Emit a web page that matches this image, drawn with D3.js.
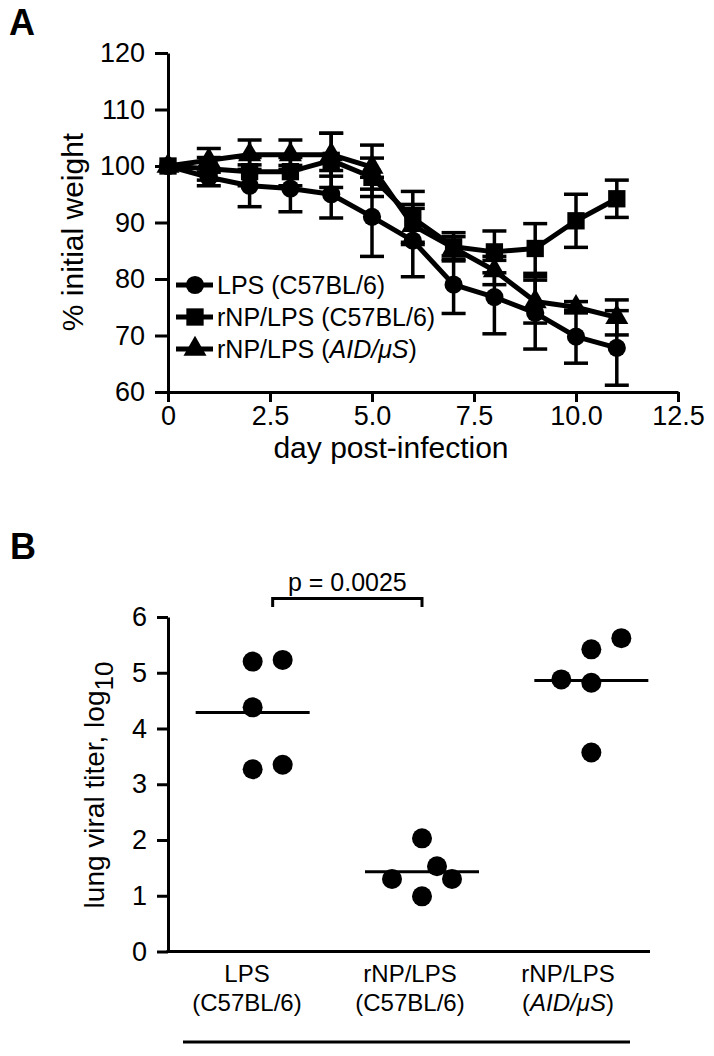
<!DOCTYPE html>
<html>
<head>
<meta charset="utf-8">
<script src="https://cdn.jsdelivr.net/npm/d3@7"></script>
<style>
  body { margin: 0; background: #fff; }
  svg { font-family: "Liberation Sans", Arial, Helvetica, sans-serif; }
</style>
</head>
<body>
<svg id="fig" width="714" height="1056"></svg>
<script>
// ---- panel A data: % initial weight by day ----
const days = [0, 1, 2, 3, 4, 5, 6, 7, 8, 9, 10, 11];
const lpsWt  = [100, 98, 96.5, 96, 95, 91, 86.8, 79, 76.8, 74, 69.8, 67.8];
const lpsErr = [0, 1.5, 3.7, 4.1, 4.2, 7, 6.4, 5.1, 6.5, 6.4, 4.7, 6.6];
const npWt   = [100, 99.5, 99, 99, 101, 98, 90.8, 85.7, 84.8, 85.4, 90.3, 94.2];
const npErr  = [0, 2, 2.5, 2.5, 4.8, 3.4, 4.7, 2.5, 3.7, 4.4, 4.7, 3.3];
const aidWt  = [100, 101, 102, 102, 102, 99.8, 89.5, 85.5, 81.5, 76, 75, 73.2];
const aidErr = [0, 2.1, 2.6, 2.6, 3.8, 3.9, 3, 2, 2.5, 3.8, 1, 3.1];
const seriesNames = ["LPS (C57BL/6)", "rNP/LPS (C57BL/6)", "rNP/LPS (AID/\u03bcS)"];
const xTicksA = [0, 2.5, 5, 7.5, 10, 12.5];
const yTicksA = [60, 70, 80, 90, 100, 110, 120];

// ---- panel B data: lung viral titer, log10 ----
const groups = ["LPS (C57BL/6)", "rNP/LPS (C57BL/6)", "rNP/LPS (AID/\u03bcS)"];
const titerLps = [5.2, 5.23, 4.38, 3.27, 3.35];
const titerNp  = [2.03, 1.53, 1.3, 1.3, 0.99];
const titerAid = [5.62, 5.42, 4.88, 4.82, 3.57];
// sideways dodge of each dot, in dot slots
const dodgeLps = [0, 1, 0, 0, 1];
const dodgeNp  = [0, 0.5, -1, 1, 0];
const dodgeAid = [1, 0, -1, 0, 0];
const yTicksB = [0, 1, 2, 3, 4, 5, 6];
const pLabel = "p = 0.0025";

const svg = d3.select("#fig");

// ================= panel A =================
const x = d3.scaleLinear().domain([0, 12.5]).range([168, 678]);
const y = d3.scaleLinear().domain([60, 120]).range([392, 53]);

svg.append("text").attr("x", 9).attr("y", 35)
  .attr("font-size", 36).attr("font-weight", "bold").text("A");

const gxA = svg.append("g").attr("transform", `translate(0,${y(60)})`)
  .call(d3.axisBottom(x).tickValues(xTicksA).tickSize(10).tickSizeOuter(0).tickPadding(4)
    .tickFormat(d => d === 0 ? "0" : d.toFixed(1)));
const gyA = svg.append("g").attr("transform", `translate(${x(0)},0)`)
  .call(d3.axisLeft(y).tickValues(yTicksA).tickSize(13).tickSizeOuter(0).tickPadding(10));
[gxA, gyA].forEach(g => {
  g.selectAll("path, line").attr("stroke", "#000").attr("stroke-width", 3);
  g.selectAll("text").attr("font-size", 27).attr("fill", "#000");
});

svg.append("text").attr("x", 391).attr("y", 458)
  .attr("text-anchor", "middle").attr("font-size", 30).text("day post-infection");
svg.append("text").attr("transform", `translate(83,232) rotate(-90)`)
  .attr("text-anchor", "middle").attr("font-size", 30).text("% initial weight");

const series = [
  { vals: lpsWt, err: lpsErr, shape: d3.symbolCircle, size: 260 },
  { vals: npWt,  err: npErr,  shape: d3.symbolSquare, size: 300 },
  { vals: aidWt, err: aidErr, shape: d3.symbolTriangle, size: 230 }
];

const line = d3.line().x(d => x(d[0])).y(d => y(d[1]));
const cap = 12;

series.forEach(s => {
  const pts = days.map((d, i) => [d, s.vals[i], s.err[i]]);
  const g = svg.append("g");
  const eb = g.selectAll(".eb").data(pts.filter(p => p[2] > 0)).join("g")
    .attr("stroke", "#000").attr("stroke-width", 3.5);
  eb.append("line").attr("x1", p => x(p[0])).attr("x2", p => x(p[0]))
    .attr("y1", p => y(p[1] - p[2])).attr("y2", p => y(p[1] + p[2]));
  eb.append("line").attr("x1", p => x(p[0]) - cap).attr("x2", p => x(p[0]) + cap)
    .attr("y1", p => y(p[1] + p[2])).attr("y2", p => y(p[1] + p[2]));
  eb.append("line").attr("x1", p => x(p[0]) - cap).attr("x2", p => x(p[0]) + cap)
    .attr("y1", p => y(p[1] - p[2])).attr("y2", p => y(p[1] - p[2]));
  g.append("path").datum(pts).attr("d", line)
    .attr("fill", "none").attr("stroke", "#000").attr("stroke-width", 5)
    .attr("stroke-linejoin", "round");
  g.selectAll(".mk").data(pts).join("path")
    .attr("transform", p => `translate(${x(p[0])},${y(p[1])})`)
    .attr("d", d3.symbol().type(s.shape).size(s.size)).attr("fill", "#000");
});

// legend
const leg = svg.append("g");
series.forEach((s, i) => {
  const ly = 285 + i * 32;
  leg.append("line").attr("x1", 176).attr("x2", 213).attr("y1", ly).attr("y2", ly)
    .attr("stroke", "#000").attr("stroke-width", 5);
  leg.append("path").attr("transform", `translate(195,${ly})`)
    .attr("d", d3.symbol().type(s.shape).size(s.size)).attr("fill", "#000");
  const t = leg.append("text").attr("x", 217).attr("y", ly + 9).attr("font-size", 25);
  if (i < 2) t.text(seriesNames[i]);
  else {
    t.append("tspan").text("rNP/LPS (");
    t.append("tspan").attr("font-style", "italic").text("AID/\u03bcS");
    t.append("tspan").text(")");
  }
});

// ================= panel B =================
const xb = d3.scalePoint().domain(groups).range([168, 676]).padding(0.5);
const yb = d3.scaleLinear().domain([0, 6]).range([951.5, 617]);
const slot = 30;

svg.append("text").attr("x", 10).attr("y", 559)
  .attr("font-size", 36).attr("font-weight", "bold").text("B");

const gyB = svg.append("g").attr("transform", `translate(168,0)`)
  .call(d3.axisLeft(yb).tickValues(yTicksB).tickSize(11).tickSizeOuter(0).tickPadding(10)
    .tickFormat(d3.format("d")));
gyB.selectAll("path, line").attr("stroke", "#000").attr("stroke-width", 3);
gyB.selectAll("text").attr("font-size", 27).attr("fill", "#000");
svg.append("line").attr("x1", 166.5).attr("x2", 650).attr("y1", yb(0)).attr("y2", yb(0))
  .attr("stroke", "#000").attr("stroke-width", 3);

const yt = svg.append("text").attr("transform", `translate(104,785) rotate(-90)`)
  .attr("text-anchor", "middle").attr("font-size", 28);
yt.append("tspan").text("lung viral titer, log");
yt.append("tspan").attr("dy", 9).attr("font-size", 26).text("10");

const titers = [titerLps, titerNp, titerAid];
const dodges = [dodgeLps, dodgeNp, dodgeAid];
groups.forEach((gname, gi) => {
  const cx = xb(gname);
  const vals = titers[gi];
  svg.append("line").attr("x1", cx - 57).attr("x2", cx + 57)
    .attr("y1", yb(d3.mean(vals))).attr("y2", yb(d3.mean(vals)))
    .attr("stroke", "#000").attr("stroke-width", 3);
  svg.selectAll(".dot" + gi).data(vals).join("circle")
    .attr("cx", (v, i) => cx + dodges[gi][i] * slot)
    .attr("cy", v => yb(v)).attr("r", 10).attr("fill", "#000");
});

// category labels
const labelLines = [["LPS", "(C57BL/6)"], ["rNP/LPS", "(C57BL/6)"], ["rNP/LPS", null]];
const labelX = [247, 410, 568];
groups.forEach((gname, gi) => {
  const t = svg.append("text").attr("text-anchor", "middle").attr("font-size", 24);
  t.append("tspan").attr("x", labelX[gi]).attr("y", 982).text(labelLines[gi][0]);
  const t2 = t.append("tspan").attr("x", labelX[gi]).attr("y", 1011);
  if (labelLines[gi][1]) t2.text(labelLines[gi][1]);
  else {
    t2.append("tspan").text("(");
    t2.append("tspan").attr("font-style", "italic").text("AID/\u03bcS");
    t2.append("tspan").text(")");
  }
});
svg.append("line").attr("x1", 183).attr("x2", 630).attr("y1", 1042).attr("y2", 1042)
  .attr("stroke", "#000").attr("stroke-width", 3);

// significance bracket
const bx1 = xb(groups[0]) + 20, bx2 = xb(groups[1]);
svg.append("path")
  .attr("d", `M${bx1},607 V598.5 H${bx2} V607`)
  .attr("fill", "none").attr("stroke", "#000").attr("stroke-width", 3);
svg.append("text").attr("x", (bx1 + bx2) / 2).attr("y", 591)
  .attr("text-anchor", "middle").attr("font-size", 25).text(pLabel);
</script>
</body>
</html>
